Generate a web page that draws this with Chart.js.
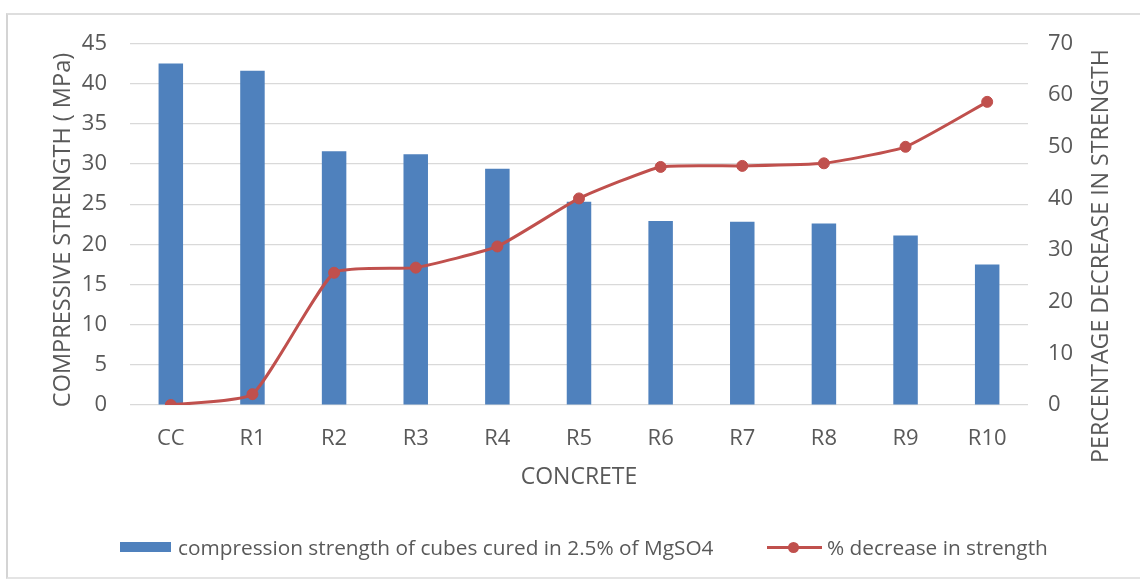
<!DOCTYPE html>
<html>
<head>
<meta charset="utf-8">
<script src="https://cdn.jsdelivr.net/npm/chart.js@4.4.1/dist/chart.umd.min.js"></script>
<style>
  html, body { margin: 0; padding: 0; background: #fff; }
  body { width: 1140px; height: 579px; position: relative; overflow: hidden; font-family: "Open Sans", sans-serif; }
  #frame { position: absolute; left: 6px; top: 13px; width: 1200px; height: 562px;
           border-left: 2px solid #d4d4d4; border-top: 2px solid #dedede; border-bottom: 2px solid #e4e4e4; }
  #wrap { position: absolute; left: 0; top: 0; width: 1140px; height: 579px; }
  #legend { position: absolute; left: 0; top: 533px; width: 1140px; height: 28px; font-size: 20.8px; color: #595959; }
  .item { position: absolute; top: 0; height: 28px; line-height: 28px; white-space: nowrap; }
  .swatch { position: absolute; }
</style>
</head>
<body>
<div id="frame"></div>
<div id="wrap"><canvas id="c" width="1140" height="579"></canvas></div>
<div id="legend"></div>
<script>
// Concrete mixes along the category axis
const categories = ["CC", "R1", "R2", "R3", "R4", "R5", "R6", "R7", "R8", "R9", "R10"];

// Compressive strength (MPa) of cubes cured in 2.5% MgSO4
const strengthMPa = [42.5, 41.6, 31.6, 31.2, 29.4, 25.3, 22.9, 22.8, 22.6, 21.1, 17.5];

// Percentage loss of strength relative to the control mix
const decreasePct = [0, 2.1, 25.6, 26.6, 30.7, 40.0, 46.1, 46.3, 46.8, 50.0, 58.7];

// Axis tick ranges
const leftTicks = { min: 0, max: 45, step: 5 };
const rightTicks = { min: 0, max: 70, step: 10 };

const barLabel = "compression strength of cubes cured in 2.5% of MgSO4";
const lineLabel = "% decrease in strength";
const leftTitle = "COMPRESSIVE STRENGTH ( MPa)";
const rightTitle = "PERCENTAGE DECREASE IN STRENGTH";
const xTitle = "CONCRETE";

const BLUE = "#4F81BD";
const RED = "#C0504D";
const TEXT = "#595959";
const FONT = "'Open Sans', sans-serif";

function fixWidth(w) { return function (scale) { scale.width = w; }; }
function fixHeight(h) { return function (scale) { scale.height = h; }; }

// Both vertical axis titles read bottom-to-top, so they are drawn here
const sideTitles = {
  id: "sideTitles",
  afterDraw(ch) {
    const ctx = ch.ctx;
    ctx.save();
    ctx.fillStyle = TEXT;
    ctx.font = "23.5px " + FONT;
    ctx.textAlign = "center";
    ctx.textBaseline = "middle";
    ctx.translate(63, 230);
    ctx.rotate(-Math.PI / 2);
    ctx.fillText(leftTitle, 0, 0);
    ctx.restore();

    ctx.save();
    ctx.fillStyle = TEXT;
    ctx.font = "23.2px " + FONT;
    ctx.textAlign = "center";
    ctx.textBaseline = "middle";
    ctx.translate(1101, 256);
    ctx.rotate(-Math.PI / 2);
    ctx.fillText(rightTitle, 0, 0);
    ctx.restore();
  }
};

const chart = new Chart(document.getElementById("c"), {
  data: {
    labels: categories,
    datasets: [
      {
        type: "line",
        label: lineLabel,
        data: decreasePct,
        yAxisID: "y1",
        borderColor: RED,
        backgroundColor: RED,
        borderWidth: 3,
        pointRadius: 5.5,
        pointBackgroundColor: RED,
        pointBorderColor: RED,
        pointBorderWidth: 1,
        tension: 0.15,
        order: 0
      },
      {
        type: "bar",
        label: barLabel,
        data: strengthMPa,
        yAxisID: "y",
        backgroundColor: BLUE,
        borderWidth: 0,
        barPercentage: 0.3,
        categoryPercentage: 1.0,
        order: 1
      }
    ]
  },
  plugins: [sideTitles],
  options: {
    responsive: false,
    animation: false,
    devicePixelRatio: 1,
    layout: { padding: { top: 43.5, bottom: 79, left: 0, right: 0 } },
    plugins: { legend: { display: false }, tooltip: { enabled: false } },
    scales: {
      x: {
        position: "bottom",
        afterFit: fixHeight(95),
        grid: { display: false, drawTicks: false },
        border: { display: false },
        ticks: { color: TEXT, font: { family: FONT, size: 22 }, padding: 21, maxRotation: 0 },
        title: { display: true, text: xTitle, color: TEXT, font: { family: FONT, size: 23 }, padding: { bottom: 9, top: 0 } }
      },
      y: {
        position: "left",
        min: leftTicks.min, max: leftTicks.max,
        afterFit: fixWidth(130),
        grid: { color: "#d9d9d9", lineWidth: 1.2, drawTicks: false },
        border: { display: false },
        ticks: { stepSize: leftTicks.step, color: TEXT, font: { family: FONT, size: 22 }, padding: 23 },
        title: { display: false }
      },
      y1: {
        position: "right",
        min: rightTicks.min, max: rightTicks.max,
        afterFit: fixWidth(112),
        grid: { display: false, drawTicks: false },
        border: { display: false },
        ticks: { stepSize: rightTicks.step, color: TEXT, font: { family: FONT, size: 22 }, padding: 20 },
        title: { display: false }
      }
    }
  }
});

// Legend row below the plot, built from the chart's datasets
(function buildLegend() {
  const legend = document.getElementById("legend");
  const bar = chart.data.datasets[1];
  const line = chart.data.datasets[0];

  const barItem = document.createElement("div");
  barItem.className = "item";
  barItem.style.left = "120px";
  barItem.innerHTML =
    '<span class="swatch" style="left:0;top:9px;width:51px;height:10px;background:' + bar.backgroundColor + '"></span>' +
    '<span style="position:absolute;left:58px;top:0">' + bar.label + '</span>';
  legend.appendChild(barItem);

  const lineItem = document.createElement("div");
  lineItem.className = "item";
  lineItem.style.left = "767px";
  lineItem.innerHTML =
    '<span class="swatch" style="left:0;top:13px;width:55px;height:3px;background:' + line.borderColor + '"></span>' +
    '<span class="swatch" style="left:21px;top:9px;width:11px;height:11px;border-radius:50%;background:' + line.borderColor + '"></span>' +
    '<span style="position:absolute;left:60px;top:0">' + line.label + '</span>';
  legend.appendChild(lineItem);
})();
</script>
</body>
</html>
